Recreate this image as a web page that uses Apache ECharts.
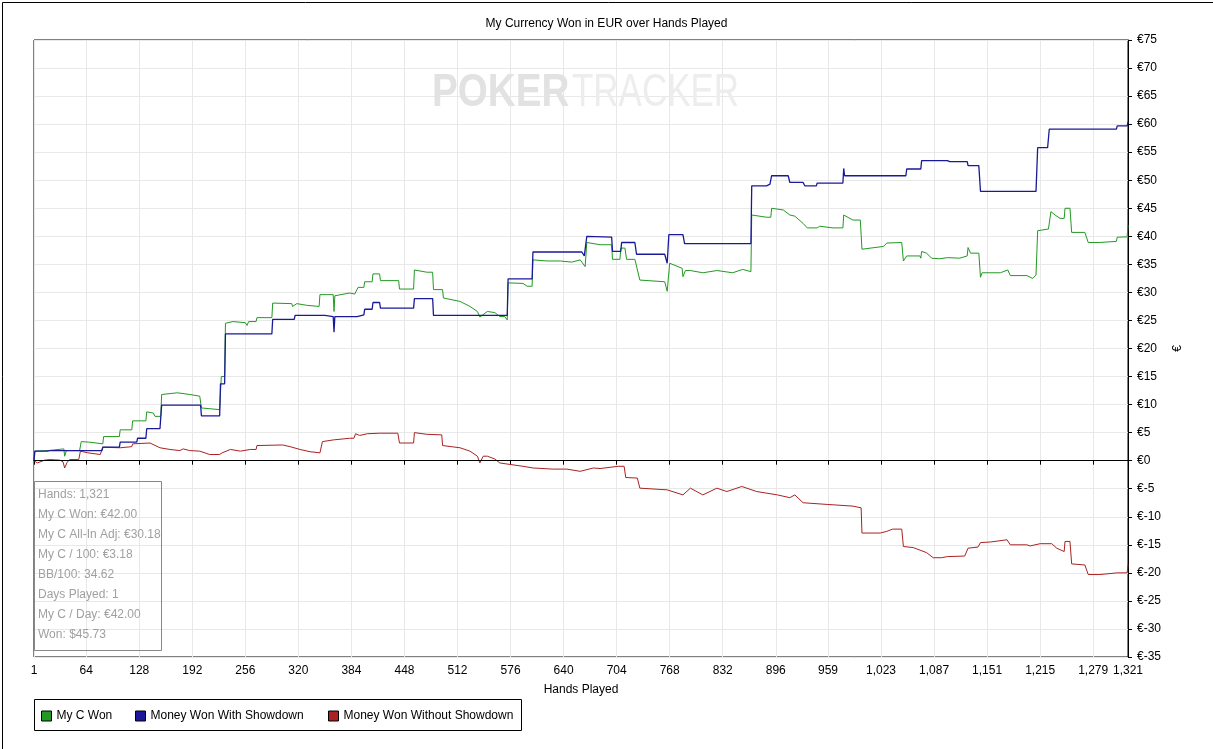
<!DOCTYPE html>
<html>
<head>
<meta charset="utf-8">
<script src="https://cdn.jsdelivr.net/npm/echarts@6.0.0/dist/echarts.min.js"></script>
<style>
html,body{margin:0;padding:0;background:#fff;}
#chart{width:1213px;height:749px;}
</style>
</head>
<body>
<div id="chart"></div>
<script>
const seriesNames = ['My C Won', 'Money Won With Showdown', 'Money Won Without Showdown'];
const xTicks = [1,64,128,192,256,320,384,448,512,576,640,704,768,832,896,959,1023,1087,1151,1215,1279,1321];
const statLines = ['Hands: 1,321','My C Won: €42.00','My C All-In Adj: €30.18','My C / 100: €3.18','BB/100: 34.62','Days Played: 1','My C / Day: €42.00','Won: $45.73'];

const myCWon = [[1,0],[2,1.7],[18,1.8],[19,2.1],[37,2.1],[38,0.8],[40,1.8],[56,1.8],[58,3.4],[68,3.3],[70,3.0],[84,3.0],[85,4.3],[104,4.3],[105,5.5],[119,5.5],[120,7.1],[136,7.1],[137,8.7],[145,8.5],[147,7.9],[154,7.9],[155,11.8],[174,12.1],[189,11.8],[201,11.5],[203,9.4],[225,9.1],[227,15.0],[231,15.0],[232,24.5],[241,24.8],[256,24.6],[258,24.1],[260,24.8],[269,24.8],[270,25.5],[288,25.5],[289,28.1],[312,28.0],[313,27.5],[318,28.0],[330,27.7],[345,27.5],[346,29.6],[362,29.6],[363,26.6],[364,29.4],[382,29.9],[388,29.7],[392,30.9],[399,30.9],[400,31.9],[409,31.9],[410,33.3],[418,33.3],[419,32.1],[441,32.1],[442,30.6],[459,30.6],[460,34.0],[475,33.6],[482,33.6],[483,30.5],[494,30.5],[495,29.0],[515,28.4],[527,27.5],[536,26.6],[539,25.6],[548,26.6],[557,26.4],[563,25.7],[569,25.7],[572,25.1],[573,31.7],[591,31.6],[596,31.1],[602,31.1],[603,35.8],[620,35.6],[636,35.6],[650,35.4],[660,35.8],[666,34.6],[668,38.9],[684,38.5],[698,38.5],[699,35.9],[708,35.9],[709,37.9],[714,37.9],[716,35.9],[726,35.9],[732,32.2],[762,31.9],[765,30.2],[767,30.5],[768,35.2],[783,34.3],[784,32.8],[787,33.9],[793,33.9],[808,33.5],[825,33.9],[844,33.5],[856,34.1],[866,33.7],[867,43.8],[885,43.4],[890,43.4],[891,45.0],[905,44.7],[913,43.8],[919,43.6],[929,42.3],[934,41.5],[946,41.5],[949,41.8],[965,41.5],[977,41.5],[978,43.8],[989,42.9],[998,42.9],[999,42.7],[1000,37.7],[1026,38.2],[1030,38.8],[1048,38.9],[1050,35.6],[1054,36.5],[1070,36.5],[1071,36.1],[1072,37.3],[1078,37.0],[1084,36.1],[1094,36.0],[1103,36.2],[1118,36.1],[1127,36.5],[1128,38.0],[1131,37.0],[1141,37.0],[1143,32.7],[1145,33.5],[1167,33.5],[1176,34.0],[1179,33.0],[1199,33.0],[1206,32.5],[1210,33.1],[1212,41.0],[1225,41.3],[1228,44.4],[1233,43.8],[1239,43.2],[1244,43.2],[1245,45.0],[1251,45.0],[1253,40.7],[1269,40.7],[1273,38.9],[1287,38.9],[1307,39.1],[1308,39.85],[1320,39.9],[1321,42.0]];

const wonWithShowdown = [[1,0],[2,1.7],[17,1.7],[18,1.4],[20,1.8],[83,1.8],[84,2.4],[104,2.4],[105,3.3],[125,3.3],[126,4.0],[136,4.0],[137,5.7],[153,5.7],[155,9.9],[202,9.9],[203,8.0],[225,8.0],[226,13.7],[231,13.7],[232,22.6],[288,22.6],[289,25.2],[315,25.2],[316,25.9],[352,25.9],[354,25.7],[362,25.7],[363,22.9],[364,25.7],[391,25.7],[393,26.0],[399,26.0],[400,27.0],[409,27.0],[410,28.2],[418,28.2],[419,27.2],[459,27.2],[460,28.9],[482,28.9],[483,25.9],[572,25.9],[573,32.4],[602,32.4],[603,37.2],[662,37.2],[665,36.5],[667,36.5],[668,40.0],[698,39.85],[699,37.3],[709,37.3],[710,38.9],[726,38.9],[728,36.8],[762,36.8],[765,35.2],[767,40.3],[784,40.3],[786,38.7],[866,38.7],[867,49.0],[885,49.0],[889,49.3],[891,50.8],[911,50.8],[913,49.6],[929,49.6],[931,49.0],[945,49.0],[946,49.5],[977,49.5],[978,52.1],[979,50.8],[1053,50.8],[1054,52.0],[1071,52.0],[1072,53.5],[1103,53.5],[1106,53.3],[1127,53.3],[1128,52.6],[1141,52.6],[1143,48.0],[1210,48.0],[1212,55.8],[1224,55.8],[1226,59.1],[1307,59.1],[1308,59.7],[1320,59.7],[1321,60.4]];

const wonWithoutShowdown = [[1,0],[5,-0.4],[14,0.1],[20,0.2],[32,0.1],[36,-0.2],[38,-1.3],[41,-0.3],[44,0.2],[55,0.2],[57,1.7],[66,1.4],[81,1.1],[83,1.2],[84,2.4],[105,2.3],[119,2.5],[120,3.0],[141,3.15],[153,2.3],[165,2.0],[177,1.8],[181,2.1],[189,1.8],[201,1.7],[213,1.1],[225,1.1],[228,1.4],[238,2.0],[250,1.7],[262,2.0],[269,2.0],[270,2.7],[301,2.8],[310,2.5],[322,2.0],[334,1.6],[346,1.4],[349,3.4],[362,3.7],[382,4.0],[387,4.0],[389,4.8],[394,4.5],[403,4.8],[418,4.9],[440,4.9],[442,3.15],[459,3.15],[460,5.0],[475,4.7],[493,4.6],[494,2.7],[515,2.3],[527,1.7],[536,0.8],[539,-0.4],[543,0.8],[548,0.8],[557,0.3],[563,-0.4],[572,-0.6],[591,-1.0],[603,-1.3],[627,-1.5],[644,-1.5],[660,-1.9],[676,-1.3],[684,-1.4],[706,-1.0],[713,-1.0],[715,-3.0],[729,-3.1],[732,-4.9],[765,-5.2],[784,-6.1],[793,-4.9],[808,-6.1],[825,-4.9],[837,-5.5],[855,-4.6],[873,-5.5],[898,-6.1],[913,-6.6],[919,-6.1],[929,-7.5],[958,-7.8],[989,-8.1],[999,-8.4],[1000,-12.9],[1022,-12.9],[1030,-12.6],[1037,-12.2],[1048,-12.2],[1050,-15.3],[1062,-15.5],[1078,-16.4],[1086,-17.3],[1096,-17.3],[1103,-17.1],[1124,-17.0],[1128,-15.6],[1140,-15.4],[1143,-14.6],[1155,-14.5],[1175,-14.1],[1179,-15.0],[1199,-15.0],[1203,-15.2],[1215,-14.8],[1229,-14.8],[1235,-15.6],[1244,-16.2],[1245,-14.4],[1251,-14.4],[1253,-18.4],[1269,-18.6],[1273,-20.3],[1287,-20.3],[1308,-20.0],[1320,-20.0],[1321,-18.5]];

const colors = ['#229922', '#1a1a99', '#aa2222'];
const FONT = 'Liberation Sans';

const chart = echarts.init(document.getElementById('chart'), null, {renderer: 'canvas'});

function fmtNum(v) {
  return String(Math.round(v)).replace(/\B(?=(\d{3})+(?!\d))/g, ',');
}

const statGraphics = statLines.map((t, i) => ({
  type: 'text', left: 38, top: 489 + i * 20, z: 101,
  style: {text: t, fill: '#a0a0a0', font: '12px "Liberation Sans"'}
}));

const option = {
  animation: false,
  backgroundColor: '#fff',
  color: colors,
  title: {
    text: 'My Currency Won in EUR over Hands Played',
    left: 'center', top: 13,
    textStyle: {fontFamily: FONT, fontSize: 12, fontWeight: 'normal', color: '#000'}
  },
  grid: {left: 34, right: 85, top: 40, bottom: 92, show: true, borderColor: '#000', borderWidth: 1, backgroundColor: 'transparent'},
  xAxis: {
    type: 'value', min: 1, max: 1321,
    name: 'Hands Played', nameLocation: 'middle', nameGap: 27,
    nameTextStyle: {fontFamily: FONT, fontSize: 12, color: '#000'},
    axisLine: {show: true, lineStyle: {color: '#000', width: 1}},
    axisTick: {show: true, length: 4, customValues: xTicks, lineStyle: {color: '#000'}},
    axisLabel: {customValues: xTicks, margin: 8, fontFamily: FONT, fontSize: 12, color: '#000', formatter: fmtNum},
    splitLine: {show: true, lineStyle: {color: '#e8e8e8', width: 1}}
  },
  yAxis: {
    type: 'value', position: 'right', min: -35, max: 75, interval: 5,
    name: '€', nameLocation: 'middle', nameGap: 44, nameRotate: 90,
    nameTextStyle: {fontFamily: FONT, fontSize: 12, color: '#000'},
    axisLine: {show: true, lineStyle: {color: '#000', width: 1}},
    axisTick: {show: true, length: 4, lineStyle: {color: '#000'}},
    axisLabel: {margin: 9, fontFamily: FONT, fontSize: 12, color: '#000', formatter: v => '€' + v},
    splitLine: {show: true, lineStyle: {color: '#e8e8e8', width: 1}}
  },
  legend: [
    {data: [seriesNames[0]], left: 41, top: 710, padding: 0, itemWidth: 10, itemHeight: 10, icon: 'rect',
     itemStyle: {borderColor: '#000', borderWidth: 1}, textStyle: {fontFamily: FONT, fontSize: 12, color: '#000'}},
    {data: [seriesNames[1]], left: 135, top: 710, padding: 0, itemWidth: 10, itemHeight: 10, icon: 'rect',
     itemStyle: {borderColor: '#000', borderWidth: 1}, textStyle: {fontFamily: FONT, fontSize: 12, color: '#000'}},
    {data: [seriesNames[2]], left: 328, top: 710, padding: 0, itemWidth: 10, itemHeight: 10, icon: 'rect',
     itemStyle: {borderColor: '#000', borderWidth: 1}, textStyle: {fontFamily: FONT, fontSize: 12, color: '#000'}}
  ],
  graphic: [
    {type: 'rect', left: 0, top: 0, z: -10, silent: true,
     shape: {x: 0.5, y: 0.5, width: 1212, height: 748}, style: {fill: 'none', stroke: '#000', lineWidth: 1}},
    {type: 'rect', z: 100, silent: true,
     shape: {x: 34.5, y: 699.5, width: 487, height: 31}, style: {fill: 'none', stroke: '#000', lineWidth: 1}},
    {type: 'rect', z: 100, silent: true,
     shape: {x: 34.5, y: 481.5, width: 127, height: 169}, style: {fill: 'none', stroke: '#888', lineWidth: 1}},
    {type: 'text', x: 432, y: 70, z: 1, silent: true, scaleX: 0.84,
     style: {text: 'POKER', fill: '#e2e2e2', font: 'bold 46px "Liberation Sans"'}},
    {type: 'text', x: 572, y: 70, z: 1, silent: true, scaleX: 0.76,
     style: {text: 'TRACKER', fill: '#ededed', font: '46px "Liberation Sans"'}}
  ].concat(statGraphics),
  series: [
    {name: seriesNames[0], type: 'line', data: myCWon, showSymbol: false, symbol: 'none',
     lineStyle: {width: 1, color: colors[0]}, itemStyle: {color: colors[0]}, z: 3,
     markLine: {silent: true, symbol: 'none', label: {show: false},
       lineStyle: {color: '#000', width: 1, type: 'solid'}, data: [{yAxis: 0}]}},
    {name: seriesNames[1], type: 'line', data: wonWithShowdown, showSymbol: false, symbol: 'none',
     lineStyle: {width: 1.3, color: colors[1]}, itemStyle: {color: colors[1]}, z: 4},
    {name: seriesNames[2], type: 'line', data: wonWithoutShowdown, showSymbol: false, symbol: 'none',
     lineStyle: {width: 1, color: colors[2]}, itemStyle: {color: colors[2]}, z: 3}
  ]
};
chart.setOption(option);
</script>
</body>
</html>
